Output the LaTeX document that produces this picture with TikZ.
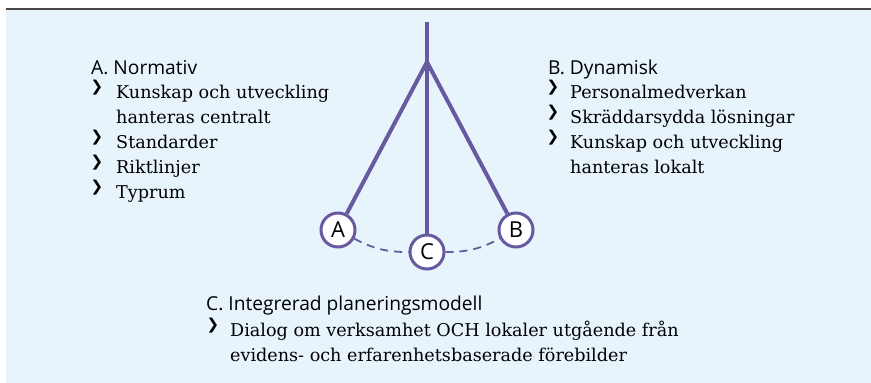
\documentclass[tikz,border=0pt]{standalone}
\usepackage{fontspec}
\setmainfont{DejaVu Serif}
\setsansfont{Open Sans}
\newfontfamily\teckenfont{DejaVu Sans}
\definecolor{lila}{RGB}{104,90,160}
\definecolor{bakgrund}{RGB}{232,244,252}
\definecolor{linje}{RGB}{70,70,70}

\begin{document}
\begin{tikzpicture}[x=1pt,y=-1pt,every node/.style={inner sep=0pt},
  rubrik/.style={anchor=base west,font=\sffamily\fontsize{19.2}{22}\selectfont},
  punkt/.style={anchor=base west,font=\rmfamily\fontsize{17.6}{22}\selectfont},
  pil/.style={anchor=center,font=\teckenfont\bfseries\fontsize{15}{16}\selectfont},
  vikt/.style={circle,draw=lila,line width=3pt,fill=white,minimum size=34pt,font=\sffamily\fontsize{22}{24}\selectfont},
  arm/.style={draw=lila,line width=4pt}]
\useasboundingbox (0,0) rectangle (871,383);
%================================================================
%	Box
\fill[bakgrund] (6,9.7) rectangle (871,383);
\draw[linje,line width=1.5pt] (6,9) -- (871,9);
%================================================================
%	Pendulum
\coordinate (topp) at (427,21.5);
\coordinate (nav) at (427,62);
\node[vikt] (A) at (338,230) {A};
\node[vikt] (C) at (427,252) {C};
\node[vikt] (B) at (516,230) {B};
%----------------------------------------------------------------
\draw[arm] (topp) -- (C);
\draw[arm] (nav) -- (A);
\draw[arm] (nav) -- (B);
\draw[lila,line width=1.8pt,dash pattern=on 8pt off 6pt] (A) to[bend right=14] (C);
\draw[lila,line width=1.8pt,dash pattern=on 8pt off 6pt] (C) to[bend right=14] (B);
%================================================================
%	A. Normativ
\node[rubrik] (a0) at (91,74) {A. Normativ};
\node[pil] (pa1) at (97,88) {❯};
\node[punkt] (a1) at (116,98.5) {Kunskap och utveckling};
\node[punkt] (a2) at (116,123.5) {hanteras centralt};
\node[pil] (pa3) at (97,138) {❯};
\node[punkt] (a3) at (116,148.5) {Standarder};
\node[pil] (pa4) at (97,163) {❯};
\node[punkt] (a4) at (116,173.5) {Riktlinjer};
\node[pil] (pa5) at (97,188) {❯};
\node[punkt] (a5) at (116,198.5) {Typrum};
%----------------------------------------------------------------
%	B. Dynamisk
\node[rubrik] (b0) at (548,74) {B. Dynamisk};
\node[pil] (pb1) at (553,88) {❯};
\node[punkt] (b1) at (570,98.5) {Personalmedverkan};
\node[pil] (pb2) at (553,113) {❯};
\node[punkt] (b2) at (570,123.5) {Skräddarsydda lösningar};
\node[pil] (pb3) at (553,138) {❯};
\node[punkt] (b3) at (570,148.5) {Kunskap och utveckling};
\node[punkt] (b4) at (570,173.5) {hanteras lokalt};
%----------------------------------------------------------------
%	C. Integrerad planeringsmodell
\node[rubrik] (c0) at (206,310.5) {C. Integrerad planeringsmodell};
\node[pil] (pc1) at (213,325.5) {❯};
\node[punkt] (c1) at (230,336) {Dialog om verksamhet OCH lokaler utgående från};
\node[punkt] (c2) at (230,361) {evidens- och erfarenhetsbaserade förebilder};
%================================================================
\end{tikzpicture}
\end{document}
